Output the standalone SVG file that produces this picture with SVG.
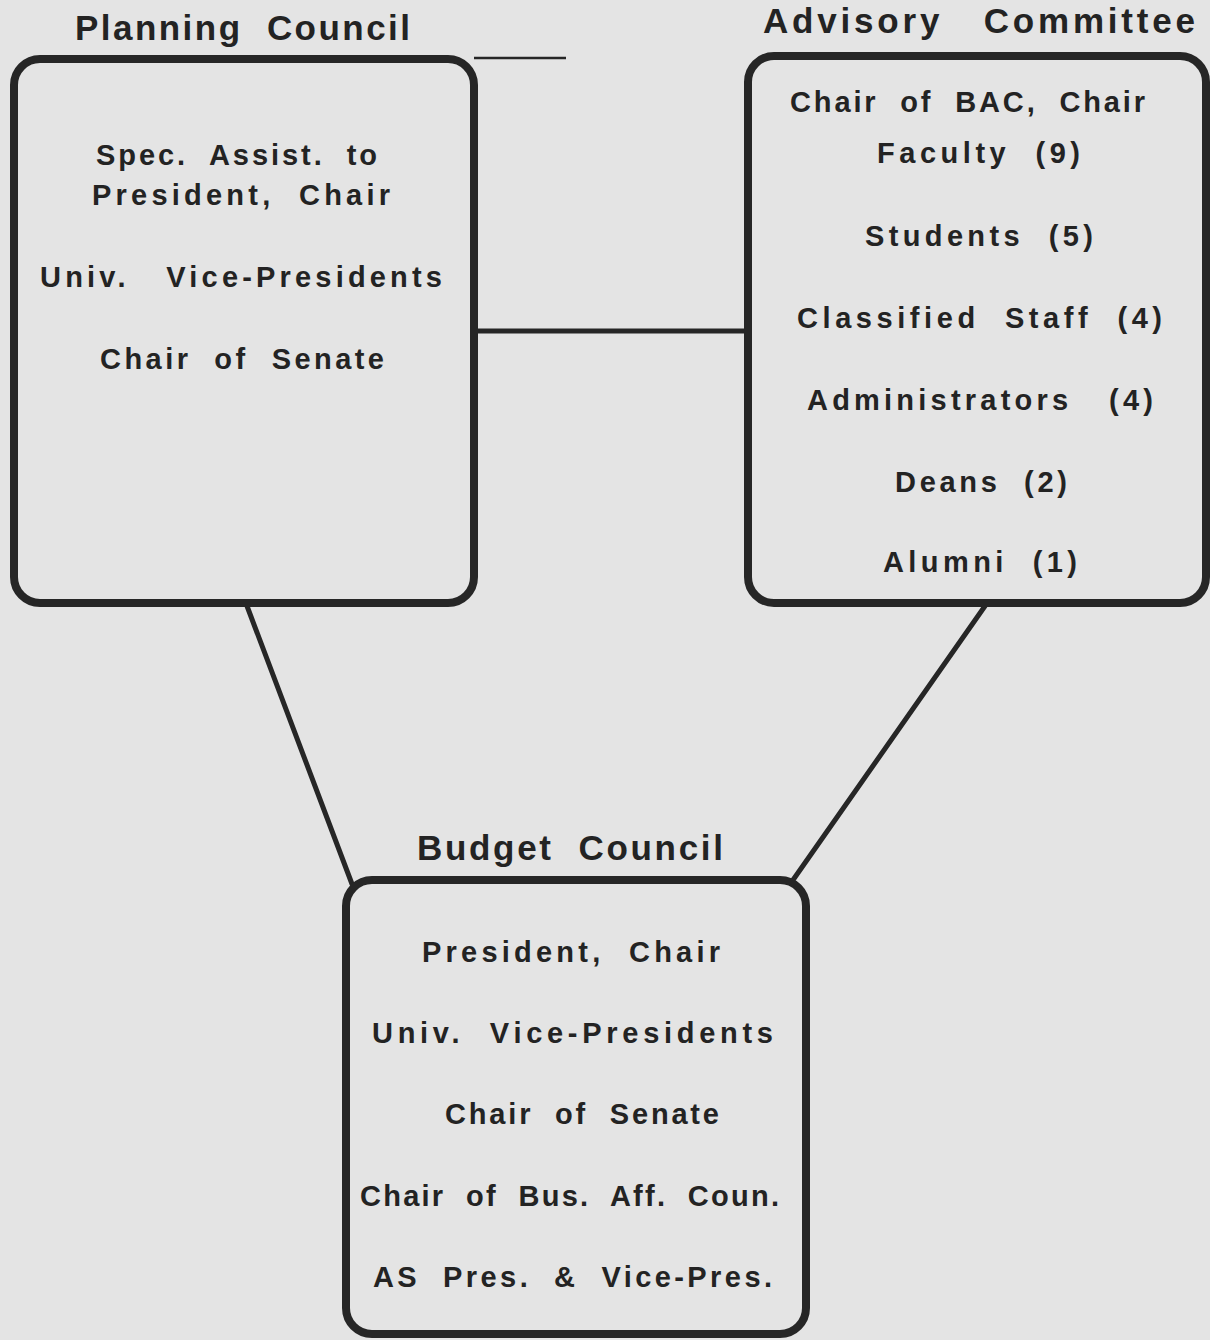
<svg xmlns="http://www.w3.org/2000/svg" width="1210" height="1340" viewBox="0 0 1210 1340">
<style>
.box{fill:none;stroke:#262626;stroke-width:8}
.con{stroke:#262626;stroke-width:5;fill:none;stroke-linecap:round}
.t{font-family:"Liberation Sans",Arial,sans-serif;font-weight:bold;font-size:29px;fill:#232323;white-space:pre}
.h{font-family:"Liberation Sans",Arial,sans-serif;font-weight:bold;font-size:35px;fill:#232323;white-space:pre}
</style>
<rect width="1210" height="1340" fill="#e4e4e4"/>
<g id="connectors">
<line class="con" x1="476" y1="331" x2="746" y2="331"/>
<line class="con" x1="247" y1="606" x2="352" y2="884"/>
<line class="con" x1="985" y1="606" x2="793" y2="880"/>
<line x1="474" y1="58" x2="566" y2="58" stroke="#262626" stroke-width="2.5"/>
</g>
<g id="planning">
<text class="h" x="75" y="40" textLength="335" lengthAdjust="spacing" xml:space="preserve">Planning  Council</text>
<rect class="box" x="14" y="59" width="460" height="544" rx="26"/>
<text class="t" x="96" y="165" textLength="281" lengthAdjust="spacing" xml:space="preserve">Spec.  Assist.  to</text>
<text class="t" x="92" y="205" textLength="298" lengthAdjust="spacing" xml:space="preserve">President,  Chair</text>
<text class="t" x="40" y="287" textLength="402" lengthAdjust="spacing" xml:space="preserve">Univ.   Vice-Presidents</text>
<text class="t" x="100" y="369" textLength="284" lengthAdjust="spacing" xml:space="preserve">Chair  of  Senate</text>
</g>
<g id="advisory">
<text class="h" x="763" y="33" textLength="432" lengthAdjust="spacing" xml:space="preserve">Advisory   Committee</text>
<rect class="box" x="748" y="56" width="458" height="547" rx="26"/>
<text class="t" x="790" y="112" textLength="355" lengthAdjust="spacing" xml:space="preserve">Chair  of  BAC,  Chair</text>
<text class="t" x="877" y="163" textLength="203" lengthAdjust="spacing" xml:space="preserve">Faculty  (9)</text>
<text class="t" x="865" y="246" textLength="228" lengthAdjust="spacing" xml:space="preserve">Students  (5)</text>
<text class="t" x="797" y="328" textLength="365" lengthAdjust="spacing" xml:space="preserve">Classified  Staff  (4)</text>
<text class="t" x="807" y="410" textLength="346" lengthAdjust="spacing" xml:space="preserve">Administrators   (4)</text>
<text class="t" x="895" y="492" textLength="172" lengthAdjust="spacing" xml:space="preserve">Deans  (2)</text>
<text class="t" x="883" y="572" textLength="194" lengthAdjust="spacing" xml:space="preserve">Alumni  (1)</text>
</g>
<g id="budget">
<text class="h" x="417" y="860" textLength="306" lengthAdjust="spacing" xml:space="preserve">Budget  Council</text>
<rect class="box" x="346" y="880" width="460" height="454" rx="26"/>
<text class="t" x="422" y="962" textLength="298" lengthAdjust="spacing" xml:space="preserve">President,  Chair</text>
<text class="t" x="372" y="1043" textLength="401" lengthAdjust="spacing" xml:space="preserve">Univ.  Vice-Presidents</text>
<text class="t" x="445" y="1124" textLength="274" lengthAdjust="spacing" xml:space="preserve">Chair  of  Senate</text>
<text class="t" x="360" y="1206" textLength="419" lengthAdjust="spacing" xml:space="preserve">Chair  of  Bus.  Aff.  Coun.</text>
<text class="t" x="373" y="1287" textLength="399" lengthAdjust="spacing" xml:space="preserve">AS  Pres.  &amp;  Vice-Pres.</text>
</g>
</svg>
